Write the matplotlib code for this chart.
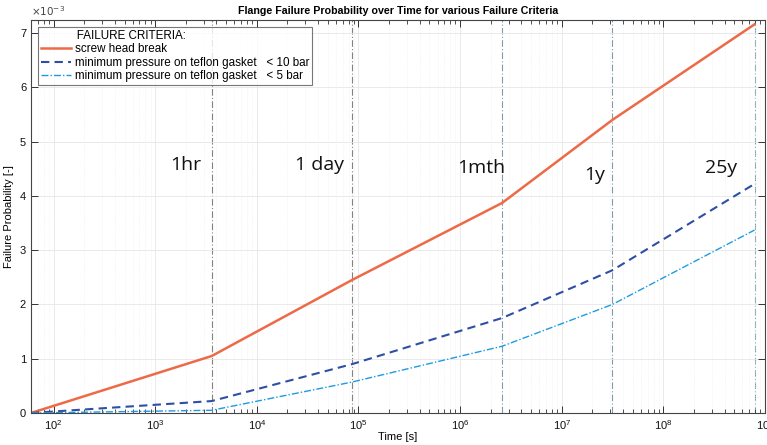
import matplotlib
matplotlib.use("Agg")
import matplotlib.pyplot as plt
import matplotlib.ticker as mticker
import numpy as np

# Data
time_s = [60, 3600, 86400, 2.592e6, 3.1536e7, 7.884e8]
screw_head_break = [0.0, 1.05e-3, 2.45e-3, 3.87e-3, 5.40e-3, 7.16e-3]
gasket_10bar = [0.0, 0.22e-3, 0.90e-3, 1.75e-3, 2.63e-3, 4.22e-3]
gasket_5bar = [0.0, 0.05e-3, 0.57e-3, 1.23e-3, 2.00e-3, 3.37e-3]
marker_times = [3600, 86400, 2.592e6, 3.1536e7, 7.884e8]
marker_labels = ["1hr", "1 day", "1mth", "1y", "25y"]
marker_label_x = [2000, 41000, 1.6e6, 2.1e7, 3.7e8]
marker_label_y = [4.57e-3, 4.57e-3, 4.52e-3, 4.38e-3, 4.51e-3]
series_labels = ["screw head break",
                 "minimum pressure on teflon gasket   < 10 bar",
                 "minimum pressure on teflon gasket   < 5 bar"]
legend_title = "FAILURE CRITERIA:"

plt.rcParams['font.family'] = ['Liberation Sans', 'DejaVu Sans']

fig = plt.figure(figsize=(7.67, 4.45), dpi=100)
ax = fig.add_axes([31/767, 32/445, (765-31)/767, (413-20)/445])

ax.plot(time_s, screw_head_break, color='#EE6A47', lw=1.8, label=series_labels[0])
ax.plot(time_s, gasket_10bar, color='#2E4FA5', lw=1.5, ls=(0, (4, 2.5)), label=series_labels[1])
ax.plot(time_s, gasket_5bar, color='#1E9BE0', lw=1.0, ls=(0, (5, 1.5, 1, 1.5)), label=series_labels[2])

vcols = ['#8a7f80', '#8a7f80', '#7f9aa8', '#7f9aa8', '#7f9aa8']
for t, c in zip(marker_times, vcols):
    ax.axvline(t, color=c, lw=0.8, ls=(0, (6, 2, 1, 2)), zorder=1)

for lx, ly, s in zip(marker_label_x, marker_label_y, marker_labels):
    ax.text(lx, ly, s, fontsize=14, family=['Open Sans', 'DejaVu Sans'],
            ha='center', va='center', color='#111111')

ax.set_xscale('log')
ax.set_xlim(60, 1e9)
ax.set_ylim(0, 7.24e-3)
ax.set_yticks(np.arange(0, 8) * 1e-3)
ax.yaxis.set_major_formatter(mticker.FuncFormatter(lambda v, p: f"{v*1e3:.0f}"))
ax.text(0.0, 1.005, r"$\times10^{-3}$", transform=ax.transAxes, fontsize=7.5, color='#444444',
        ha='left', va='bottom')

ax.set_xticks([1e2, 1e3, 1e4, 1e5, 1e6, 1e7, 1e8, 1e9])
ax.xaxis.set_minor_locator(mticker.LogLocator(base=10, subs=np.arange(2, 10), numticks=100))
ax.xaxis.set_minor_formatter(mticker.NullFormatter())

ax.grid(True, which='major', color='#e6e6e6', lw=0.6)
ax.grid(True, which='minor', axis='x', color='#ececec', lw=0.5, ls=':')

ax.tick_params(which='both', direction='in', top=True, right=True, colors='#333333',
               labelsize=8, labelcolor='#111111')
ax.tick_params(which='major', length=5, width=0.7)
ax.tick_params(which='minor', length=3, width=0.6)
for sp in ax.spines.values():
    sp.set_color('#444444')
    sp.set_linewidth(0.8)

ax.set_title("Flange Failure Probability over Time for various Failure Criteria",
             fontsize=7.7, fontweight='bold', pad=4)
ax.set_xlabel("Time [s]", fontsize=8, labelpad=0)
ax.set_ylabel("Failure Probability [-]", fontsize=8, labelpad=4)

leg = ax.legend(loc='upper left', title=" " * 11 + legend_title, fontsize=8.4, title_fontsize=8.4,
                frameon=True, fancybox=False, edgecolor='#555555', borderaxespad=0.6,
                handlelength=2.6, handletextpad=0.3, labelspacing=0.12, borderpad=0.25,
                alignment='left')
leg.get_frame().set_linewidth(0.8)

fig.savefig("out.png", dpi=100)
